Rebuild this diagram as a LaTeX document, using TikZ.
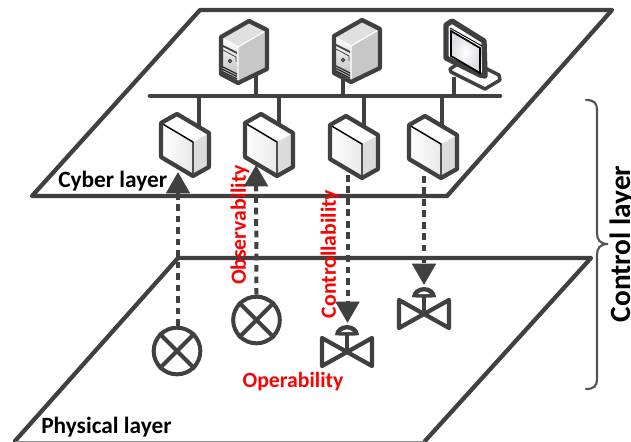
\documentclass[tikz,border=0pt]{standalone}
\usepackage{fontspec}
\setmainfont{Carlito}
\usetikzlibrary{arrows.meta}
\definecolor{ink}{HTML}{404040}
\tikzset{
  plane/.style={draw=ink,line width=3.2pt,line join=round,line cap=round},
  outline/.style={draw=ink,line width=3.2pt,line join=round},
  bus/.style={draw=ink,line width=3.4pt,line cap=round},
  stem/.style={draw=ink,line width=3pt},
  link/.style={draw=ink,line width=3pt,dash pattern=on 5pt off 3.6pt,
    -{Triangle[width=17.5pt,length=16pt]},fill=none},
  sensor/.style={circle,draw=ink,line width=3pt,minimum size=35pt,inner sep=0pt},
  lay/.style={font=\bfseries\fontsize{17.5}{18}\selectfont,text=black,inner sep=0pt},
  prop/.style={font=\bfseries\fontsize{16.3}{17}\selectfont,text=red,inner sep=0pt},
  brace/.style={draw=ink!90,line width=1.6pt,line cap=round},
  pics/server/.style={code={
    \fill[top color=white,bottom color=black!28] (-17,-10)--(0,0)--(0,36)--(-17,27)--cycle;
    \fill[black!22] (0,0)--(29,-17)--(29,22)--(0,36)--cycle;
    \fill[black!12] (-17,-10)--(11,-26)--(29,-17)--(0,0)--cycle;
    \draw[white,line width=.9pt] (-17,-10)--(0,0)--(29,-17) (0,0)--(0,36);
    \fill[black!75] (-15,-2)--(-1,5)--(-1,7)--(-15,0)--cycle;
    \draw[black!75,line width=.6pt] (-15,3)--(-2,10)--(-2,15);
    \draw[black!80,line width=.8pt] (-8,14) circle (1.6);
    \foreach \d in {21,23.5,26,28.5}{\draw[black!85,line width=.9pt] (-15,\d-1)--(-1,\d+6);}
    \draw[outline] (-17,-10)--(11,-26)--(29,-17)--(29,22)--(0,36)--(-17,27)--cycle;
  }},
  pics/ctrl/.style={code={
    \fill[left color=white,right color=black!9] (-32,-19)--(0,0)--(0,34)--(-32,15)--cycle;
    \fill[black!14] (0,0)--(16,-9)--(16,25)--(0,34)--cycle;
    \fill[white] (-32,-19)--(-16,-28)--(16,-9)--(0,0)--cycle;
    \draw[black,line width=1.1pt] (-32,-19)--(0,0)--(0,34);
    \draw[outline] (-32,-19)--(-16,-28)--(16,-9)--(16,25)--(0,34)--(-32,15)--cycle;
  }},
  pics/valve/.style={code={
    \draw[outline] (-25,-14)--(25,14)--(25,-14)--(-25,14)--cycle;
    \draw[stem] (0,0)--(0,-18);
    \fill[ink] (-12,-17) arc[start angle=180,end angle=360,x radius=12,y radius=10]
      .. controls (8,-16) and (-8,-16) .. (-12,-17) -- cycle;
    \fill[white] (-6,-20) .. controls (-2,-23.5) and (2,-23.5) .. (6,-20) -- cycle;
  }},
  x=.75pt,y=-.75pt
}
\begin{document}
\begin{tikzpicture}
\useasboundingbox (0,0) rectangle (631,442);
% named places
\coordinate (busL) at (150,96);
\coordinate (busR) at (500,96);
\coordinate (srvA) at (238,47);
\coordinate (srvB) at (351,46);
\coordinate (ctA) at (193,142);
\coordinate (ctB) at (277,142);
\coordinate (ctC) at (362,144);
\coordinate (ctD) at (441,144);
\coordinate (vlA) at (347,352);
\coordinate (vlB) at (424,314);
\coordinate (srvAp) at (256,72);
\coordinate (srvBp) at (343,72);
\coordinate (monp) at (454,77);
\coordinate (ctAp) at (199,128);
\coordinate (ctBp) at (279,128);
\coordinate (ctCp) at (364,128);
\coordinate (ctDp) at (442,128);
\coordinate (upA) at (178,172);
\coordinate (upB) at (256,165);
\coordinate (dnC) at (347.5,175);
\coordinate (dnD) at (424,176);
\coordinate (tipC) at (347.5,323);
\coordinate (tipD) at (424,285);
% planes
\draw[plane] (200,10)--(612,10)--(447,196)--(32,196)--cycle;
\draw[plane] (15,441)--(178,258)--(591,258)--(425,441);
\draw[draw=black!45,line width=.8pt] (15,441.5)--(425,441.5);
% bus and drops
\draw[stem] (srvAp)--(srvAp|-busL);
\draw[stem] (srvBp)--(srvBp|-busL);
\draw[stem] (monp)--(monp|-busL);
\draw[stem] (ctAp)--(ctAp|-busL);
\draw[stem] (ctBp)--(ctBp|-busL);
\draw[stem] (ctCp)--(ctCp|-busL);
\draw[stem] (ctDp)--(ctDp|-busL);
\draw[bus] (busL)--(busR);
% devices
\pic at (srvA) {server};
\pic at (srvB) {server};
% monitor
\fill[white] (452,66)--(486,85)--(500,78)--(486,70)--cycle;
\draw[draw=ink,line width=2.6pt,line join=round] (456,65)--(450,69)--(451,72)--(485,89)--(500,80)--(499,75)--(485,68);
\draw[draw=ink,line width=4pt,line join=round,fill=white] (446,25)--(452,21)--(484,41)--(485,76)--(480,75)--(446,58)--cycle;
\shade[inner color=white,outer color=blue!16!black!14] (451,32)--(480,49)--(480,72)--(451,55)--cycle;
\draw[black,line width=1.3pt,line join=miter] (451,31)--(480,48)--(480,73)--(451,56)--cycle;
\draw[black,line width=.7pt] (450,28)--(482,46);
\pic at (ctA) {ctrl};
\pic at (ctB) {ctrl};
\pic at (ctC) {ctrl};
\pic at (ctD) {ctrl};
% field devices
\node[sensor] (senA) at (177,351) {};
\node[sensor] (senB) at (256.5,320) {};
\draw[stem] (senA.north west)--(senA.south east) (senA.north east)--(senA.south west);
\draw[stem] (senB.north west)--(senB.south east) (senB.north east)--(senB.south west);
\pic at (vlA) {valve};
\pic at (vlB) {valve};
% labels
\node[lay,anchor=west] (cyber) at (58,181) {Cyber layer};
\node[lay,anchor=west] (phys) at (41,427) {Physical layer};
\node[prop] (oper) at (293,382) {Operability};
\node[prop,rotate=90] (obs) at (240,225) {Observability};
\node[prop,rotate=90] (ctl) at (330,254) {Controllability};
\node[font=\bfseries\fontsize{22}{23}\selectfont,rotate=90,inner sep=0pt,anchor=base] (ctrl) at (630,244) {Control layer};
% links
\draw[link] (senA.north)++(1,0)--(upA);
\draw[link] (senB.north)--(upB);
\draw[link] (dnC)--(tipC);
\draw[link] (dnD)--(tipD);
% brace
\draw[brace] (586,100) .. controls (594,100) and (597,103) .. (597,110)
  -- (597,233) .. controls (597,240) and (600,244) .. (608,244)
  .. controls (600,244) and (597,248) .. (597,255)
  -- (597,379) .. controls (597,386) and (594,389) .. (586,389);
\end{tikzpicture}
\end{document}
